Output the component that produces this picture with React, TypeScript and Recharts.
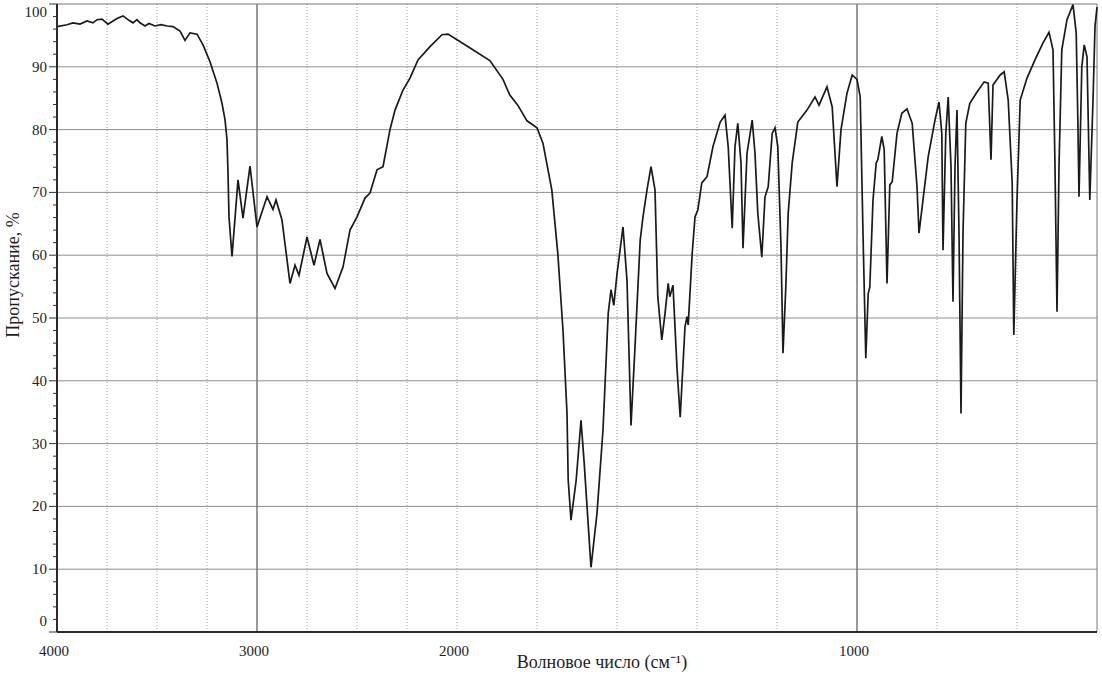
import React from "react";
import { LineChart, Line, XAxis, YAxis, ReferenceLine } from "recharts";

// Wavenumber (cm^-1), high to low
const wavenumbers = [
  4000, 3950, 3920, 3885, 3850, 3820, 3800, 3775, 3745, 3720, 3700, 3670, 3640, 3620, 3600, 3585, 3560, 3540, 3510, 3480,
  3450, 3420, 3385, 3360, 3335, 3300, 3270, 3235, 3200, 3175, 3160, 3150, 3145, 3140,
  3125, 3095, 3070, 3035, 3000, 2950, 2920, 2905, 2875, 2835, 2810, 2790, 2750, 2715, 2685, 2650, 2610, 2570, 2535, 2500,
  2460, 2435, 2400, 2370, 2335, 2310, 2270, 2235, 2195, 2135, 2075, 2045, 2000, 1972, 1918, 1885, 1868, 1848, 1825, 1800,
  1785, 1763, 1748, 1735, 1725, 1722, 1715, 1702, 1690, 1682, 1665, 1650, 1635, 1622, 1615, 1608, 1600, 1585, 1575, 1565,
  1555, 1542, 1535, 1525, 1515, 1505, 1498, 1488, 1480, 1472, 1468, 1460, 1450, 1442, 1430, 1425, 1422, 1412, 1405, 1398,
  1388, 1375, 1360, 1342, 1330, 1322, 1312, 1305, 1298, 1290, 1285, 1275, 1262, 1255, 1248, 1238, 1230, 1222, 1212, 1205,
  1198, 1190, 1185, 1178, 1172, 1162, 1148, 1125, 1105, 1095, 1075, 1062, 1050, 1040, 1025, 1012, 1000, 992, 985, 978,
  972, 968, 960, 952, 948, 938, 932, 925, 918, 912, 900, 888, 875, 862, 850, 845, 835, 822, 805, 795,
  788, 785, 778, 772, 765, 760, 755, 750, 745, 740, 735, 728, 718, 700, 682, 672, 665, 660, 642, 632,
  622, 612, 608, 600, 592, 575, 555, 535, 520, 510, 505, 500, 495, 488, 475, 460, 452, 448, 445, 438,
  432, 425, 418, 410, 405, 400,
];

// Transmittance (%), same order
const transmittance = [
  96.4, 96.7, 97.0, 96.8, 97.3, 97.0, 97.5, 97.6, 96.8, 97.3, 97.7, 98.1, 97.4, 97.0, 97.5, 97.0, 96.5, 96.9, 96.5, 96.7,
  96.5, 96.4, 95.7, 94.2, 95.4, 95.2, 93.5, 90.8, 87.4, 84.2, 81.6, 78.4, 73.1, 66.1,
  59.8, 72.0, 65.9, 74.2, 64.5, 69.3, 67.3, 68.8, 65.6, 55.5, 58.4, 56.8, 62.9, 58.4, 62.5, 57.1, 54.7, 58.1, 64.0, 66.1,
  69.1, 69.9, 73.6, 74.1, 80.0, 83.1, 86.3, 88.2, 91.1, 93.2, 95.1, 95.2, 94.3, 93.2, 91.0, 88.0, 85.5, 83.9, 81.4, 80.3,
  77.8, 70.4, 60.3, 48.0, 34.8, 24.2, 17.8, 24.2, 33.7, 26.9, 10.3, 18.9, 32.2, 50.7, 54.5, 52.0, 57.0, 64.5, 56.0, 32.9,
  45.4, 62.4, 66.1, 70.4, 74.1, 70.4, 53.4, 46.5, 50.7, 55.5, 53.4, 55.2, 42.0, 34.2, 48.6, 50.2, 48.9, 60.3, 66.1, 67.2,
  71.5, 72.5, 77.3, 81.2, 82.3, 77.3, 64.3, 77.3, 81.0, 74.7, 61.1, 76.2, 81.5, 76.2, 66.7, 59.7, 69.3, 70.9, 79.4, 80.3,
  77.3, 61.3, 44.4, 54.9, 66.7, 74.7, 81.2, 83.1, 85.2, 83.9, 86.8, 83.6, 70.9, 80.0, 85.8, 88.7, 88.0, 85.2, 63.5, 43.6,
  53.9, 54.9, 68.8, 74.7, 75.2, 78.9, 76.8, 55.5, 71.2, 71.7, 79.4, 82.6, 83.3, 81.0, 70.9, 63.5, 68.8, 75.7, 81.5, 84.4,
  79.4, 60.8, 79.4, 85.2, 74.1, 52.6, 74.1, 83.1, 63.5, 34.8, 63.5, 81.0, 84.2, 86.0, 87.6, 87.4, 75.2, 87.1, 88.7, 89.2,
  84.7, 71.5, 47.3, 68.8, 84.7, 88.2, 91.1, 93.8, 95.5, 92.7, 74.1, 51.0, 74.1, 92.7, 97.5, 99.9, 95.4, 82.0, 69.3, 90.0,
  93.5, 91.6, 68.8, 84.7, 96.4, 99.5,
];

const xTickLabels = [4000, 3000, 2000, 1000];
const solidGridWavenumbers = [3000, 1000];
const dottedGridWavenumbers = [3750, 3500, 3250, 2750, 2500, 2250, 2000, 1800, 1600, 1400, 1200, 800, 600];
const horizontalGrid = [10, 20, 30, 40, 50, 60, 70, 80, 90];

// The instrument's axis changes scale at 2000 cm^-1 (2x expansion below it)
const toPos = (wn: number) => (wn >= 2000 ? (4000 - wn) / 2 : 1000 + (2000 - wn));

const data = wavenumbers.map((wn, i) => ({ wn, t: transmittance[i] }));

const yTicksAll: number[] = [];
for (let v = 0; v <= 100; v += 2) yTicksAll.push(v);

const FONT = '"Liberation Serif", "Times New Roman", serif';
const INK = "#1e1e1e";
const textStyle = { fontFamily: FONT };

const YTick = (props: any) => {
  const { x, y, payload } = props;
  const v = payload.value as number;
  const major = v % 10 === 0;
  const dy = v === 100 ? 13 : v === 0 ? -6 : 5;
  return (
    <g>
      <line x1={major ? x - 8 : x - 4} x2={x} y1={y} y2={y} stroke="#333" strokeWidth={1} />
      {major && (
        <text x={x - 10} y={y} dy={dy} textAnchor="end" fontSize={15} style={textStyle} fill={INK}>
          {v}
        </text>
      )}
    </g>
  );
};

const XTick = (props: any) => {
  const { x, y, payload } = props;
  const label = xTickLabels[[0, 500, 1000, 2000].indexOf(payload.value)];
  return (
    <text x={x - 3} y={y + 24} textAnchor="middle" fontSize={15} style={textStyle} fill={INK}>
      {label}
    </text>
  );
};

export default function App() {
  return (
    <div style={{ position: "absolute", left: 0, top: 0, width: 1102, height: 677, background: "#fff" }}>
      <LineChart width={1102} height={677} data={data} margin={{ top: 4, right: 5, left: 0, bottom: 0 }}>
        {horizontalGrid.map((v) => (
          <ReferenceLine key={"h" + v} y={v} stroke="#8f8f8f" strokeWidth={1} />
        ))}
        {dottedGridWavenumbers.map((wn) => (
          <ReferenceLine key={"d" + wn} x={toPos(wn)} stroke="#9a9a9a" strokeWidth={1} strokeDasharray="1 2" />
        ))}
        {solidGridWavenumbers.map((wn) => (
          <ReferenceLine key={"s" + wn} x={toPos(wn)} stroke="#777" strokeWidth={1.5} />
        ))}
        <ReferenceLine y={100} stroke="#777" strokeWidth={1} />
        <ReferenceLine x={toPos(400)} stroke="#777" strokeWidth={1} />
        <XAxis
          type="number"
          dataKey={(d: any) => toPos(d.wn)}
          domain={[0, 2600]}
          ticks={xTickLabels.map(toPos)}
          tick={<XTick />}
          tickLine={false}
          tickSize={0}
          tickMargin={0}
          height={45}
          axisLine={{ stroke: "#2a2a2a", strokeWidth: 2 }}
          interval={0}
          label={{
            content: () => (
              <text x={602} y={668} textAnchor="middle" fontSize={18} style={textStyle} fill={INK}>
                Волновое число (см⁻¹)
              </text>
            ),
          }}
        />
        <YAxis
          type="number"
          domain={[0, 100]}
          ticks={yTicksAll}
          interval={0}
          width={57}
          tick={<YTick />}
          tickLine={false}
          tickSize={0}
          tickMargin={0}
          axisLine={{ stroke: "#2a2a2a", strokeWidth: 2 }}
          label={{
            content: () => (
              <text
                x={13}
                y={275}
                transform="rotate(-90 13 275)"
                textAnchor="middle"
                dominantBaseline="central"
                fontSize={18}
                style={textStyle}
                fill={INK}
              >
                Пропускание, %
              </text>
            ),
          }}
        />
        <Line
          type="linear"
          dataKey="t"
          stroke="#1a1a1a"
          strokeWidth={1.7}
          dot={false}
          isAnimationActive={false}
        />
      </LineChart>
    </div>
  );
}
